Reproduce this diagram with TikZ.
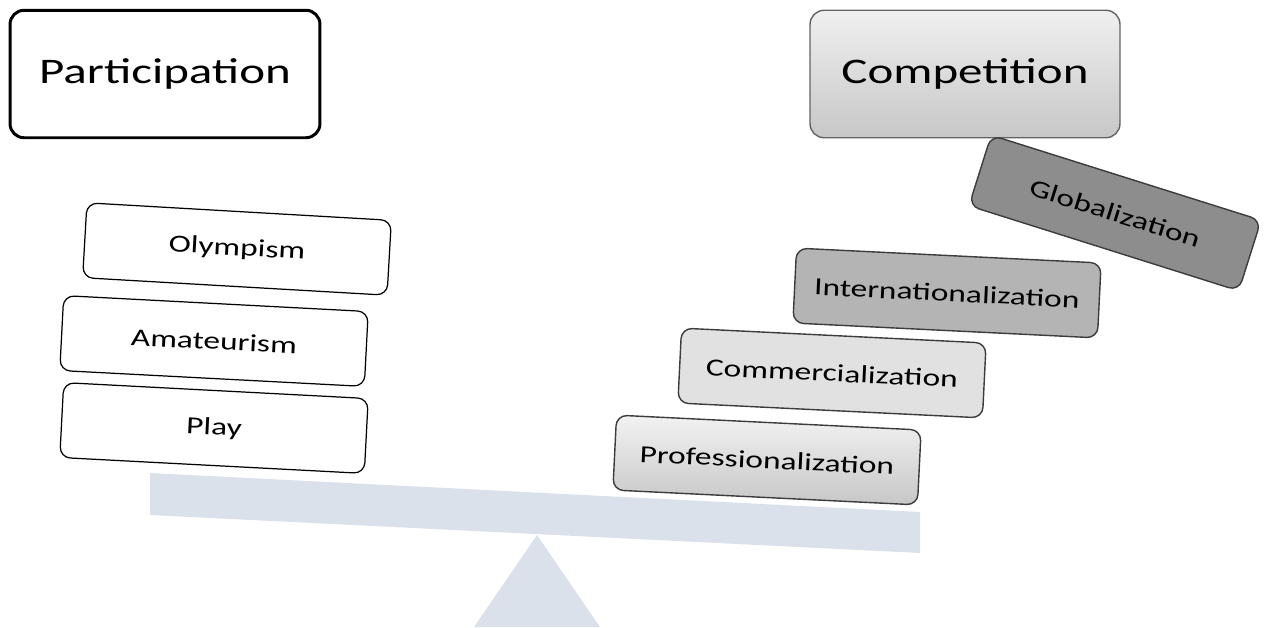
\documentclass[tikz,border=0pt]{standalone}
\usepackage{fontspec}
\setmainfont{Carlito}[FakeStretch=1.36]
\usetikzlibrary{positioning, shapes}
\definecolor{beam_blue}{HTML}{DBE1EA}
\definecolor{light_grey}{HTML}{E1E1E1}
\definecolor{mid_grey}{HTML}{B4B4B4}
\definecolor{dark_grey}{HTML}{8D8D8D}
\definecolor{edge_grey}{HTML}{3C3C3C}
\tikzset{
    title_node/.style={rectangle, rounded corners=8pt, minimum width=6.2cm, minimum height=2.55cm, text centered, align=center, font=\fontsize{20.5}{24}\selectfont},
    generic_node/.style={rectangle, rounded corners=6pt, minimum width=6.1cm, minimum height=1.5cm, text centered, align=center, font=\fontsize{14}{17}\selectfont},
    plain_box/.style={generic_node, draw=black, line width=0.7pt, fill=white},
    grey_box/.style={generic_node, draw=edge_grey, line width=0.8pt},
    shaded_box/.style={grey_box, top color=black!5, bottom color=black!22},
    beam/.style={fill=beam_blue, draw=none},
}
\begin{document}
\begin{tikzpicture}[x=0.02cm, y=-0.02cm]
            \useasboundingbox (0,0) rectangle (1275,627);
            %%%%%%%%%%%%
            % SEE-SAW  %
            %%%%%%%%%%%%
            \fill [beam] (537,535) -- (600,627) -- (474,627) -- cycle;
            \fill [beam] (150,473) -- (920,512) -- (920,553) -- (150,515) -- cycle;

            %%%%%%%%%%%%%%%%%
            % PARTICIPATION %
            %%%%%%%%%%%%%%%%%
            \node (participation) [title_node, draw=black, line width=1.7pt] at (165,74)
                    {Participation};
            \node (olympism_box) [plain_box, rotate=-3.3] at (237,249)
                    {Olympism};
            \node (amateurism_box) [plain_box, rotate=-3] at (214,341)
                    {Amateurism};
            \node (play_box) [plain_box, rotate=-3] at (214,428)
                    {Play};

            %%%%%%%%%%%%%%%
            % COMPETITION %
            %%%%%%%%%%%%%%%
            \node (competition) [title_node, draw=edge_grey!80, line width=0.8pt, top color=black!6, bottom color=black!22] at (965,74)
                    {Competition};
            \node (prof_box) [shaded_box, rotate=-2.8] at (767,460)
                    {Professionalization};
            \node (comm_box) [grey_box, fill=light_grey, rotate=-2.8] at (832,373)
                    {Commercialization};
            \node (intl_box) [grey_box, fill=mid_grey, rotate=-2.8] at (947,293)
                    {Internationalization};
            \node (glob_box) [grey_box, fill=dark_grey, minimum width=5.66cm, minimum height=1.48cm, rotate=-17.5] at (1115,213)
                    {Globalization};
      \end{tikzpicture}
\end{document}
